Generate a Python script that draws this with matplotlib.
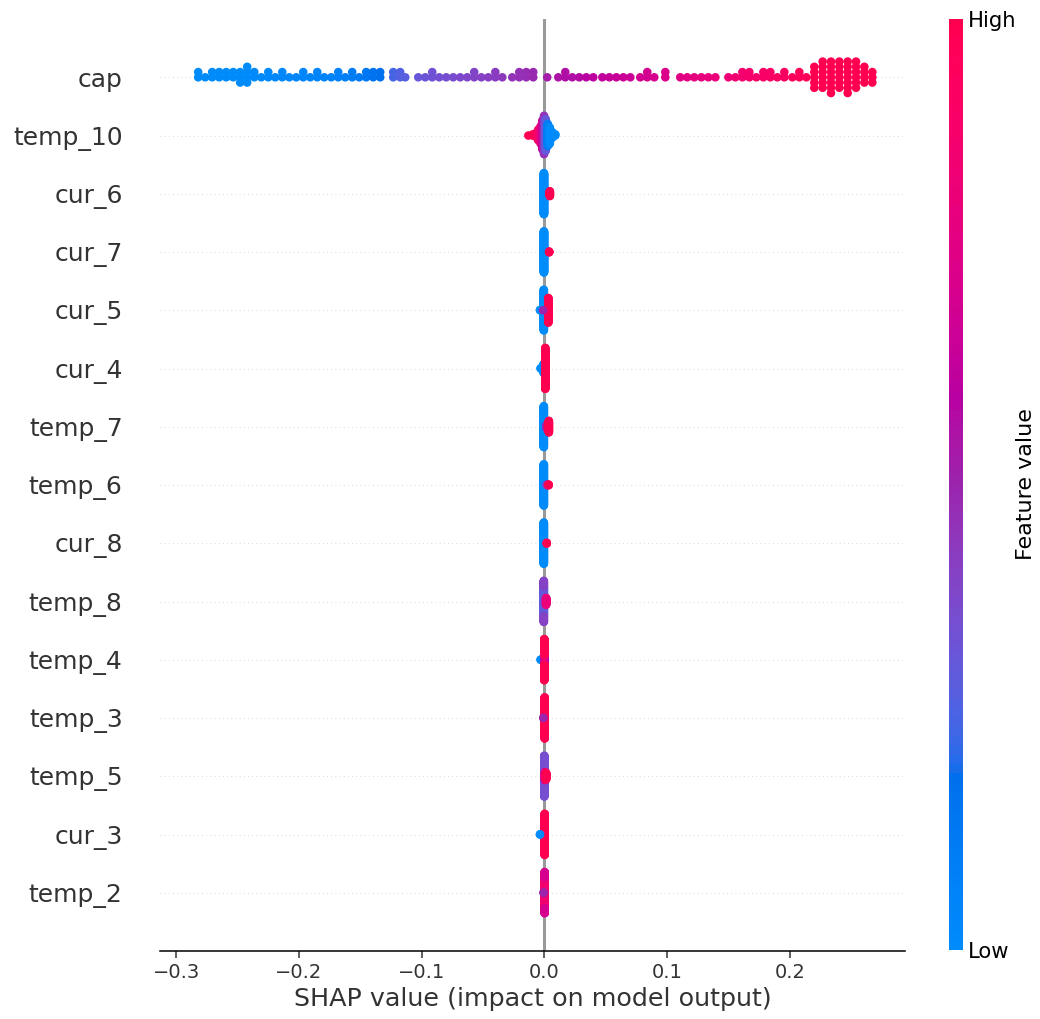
import numpy as np
import matplotlib
matplotlib.use("Agg")
import matplotlib.pyplot as plt
from matplotlib.colors import ListedColormap, Normalize
from matplotlib.cm import ScalarMappable

# Feature rows, top to bottom
feature_names = ["cap", "temp_10", "cur_6", "cur_7", "cur_5", "cur_4", "temp_7",
                 "temp_6", "cur_8", "temp_8", "temp_4", "temp_3", "temp_5",
                 "cur_3", "temp_2"]

# Each row: (SHAP value, scaled feature value, number of samples)
cap_pts = [
    (-0.2820, 0.00, 2), (-0.2763, 0.00, 1), (-0.2706, 0.00, 2), (-0.2649, 0.00, 2),
    (-0.2592, 0.00, 2), (-0.2535, 0.00, 2), (-0.2478, 0.00, 3), (-0.2421, 0.00, 4),
    (-0.2363, 0.01, 2), (-0.2306, 0.01, 1), (-0.2249, 0.01, 2), (-0.2192, 0.02, 1),
    (-0.2135, 0.02, 2), (-0.2078, 0.02, 1), (-0.2021, 0.03, 1), (-0.1964, 0.03, 2),
    (-0.1907, 0.04, 1), (-0.1850, 0.05, 2), (-0.1793, 0.05, 1), (-0.1736, 0.06, 1),
    (-0.1679, 0.07, 2), (-0.1622, 0.08, 1), (-0.1565, 0.10, 2), (-0.1508, 0.11, 1),
    (-0.1451, 0.13, 2), (-0.1394, 0.15, 2), (-0.1337, 0.17, 2),
    (-0.1231, 0.24, 2), (-0.1174, 0.26, 2), (-0.1133, 0.27, 1),
    (-0.1027, 0.31, 1), (-0.0970, 0.32, 1), (-0.0913, 0.33, 2), (-0.0856, 0.34, 1),
    (-0.0799, 0.35, 1), (-0.0742, 0.36, 1), (-0.0685, 0.37, 1), (-0.0628, 0.38, 1),
    (-0.0571, 0.39, 2), (-0.0513, 0.40, 1), (-0.0456, 0.41, 1), (-0.0399, 0.42, 2),
    (-0.0342, 0.43, 1), (-0.0261, 0.45, 1), (-0.0204, 0.46, 2), (-0.0147, 0.47, 2),
    (-0.0090, 0.48, 2), (0.0024, 0.52, 1),
    (0.0114, 0.55, 1), (0.0171, 0.56, 2), (0.0228, 0.57, 1), (0.0285, 0.58, 1),
    (0.0342, 0.59, 1), (0.0399, 0.60, 1), (0.0473, 0.62, 1), (0.0530, 0.63, 1),
    (0.0587, 0.64, 1), (0.0644, 0.65, 1), (0.0701, 0.66, 1), (0.0782, 0.68, 1),
    (0.0839, 0.69, 2), (0.0896, 0.70, 1), (0.0986, 0.72, 2), (0.1108, 0.75, 1),
    (0.1165, 0.76, 1), (0.1222, 0.77, 1), (0.1280, 0.78, 1), (0.1337, 0.79, 1),
    (0.1394, 0.80, 1), (0.1500, 0.83, 1), (0.1557, 0.85, 1), (0.1614, 0.86, 2),
    (0.1671, 0.87, 2), (0.1728, 0.88, 1), (0.1785, 0.89, 2), (0.1842, 0.90, 2),
    (0.1899, 0.91, 1), (0.1956, 0.92, 2), (0.2021, 0.94, 1), (0.2078, 0.95, 2),
    (0.2135, 0.96, 1),
    (0.2200, 1.00, 5), (0.2268, 1.00, 6), (0.2336, 1.00, 7), (0.2404, 1.00, 6),
    (0.2472, 1.00, 7), (0.2540, 1.00, 6), (0.2608, 1.00, 4), (0.2673, 1.00, 3),
]
temp_10_pts = [
    (-0.0130, 1.00, 1), (-0.0095, 1.00, 2), (-0.0070, 0.95, 4), (-0.0050, 0.90, 10),
    (-0.0030, 0.80, 16), (-0.0015, 0.65, 26), (-0.0002, 0.45, 34), (0.0012, 0.30, 28),
    (0.0028, 0.10, 20), (0.0045, 0.00, 15), (0.0065, 0.00, 6), (0.0090, 0.00, 2),
]
cur_6_pts = [(-0.0003, 0.00, 146), (0.0045, 1.00, 18)]
cur_7_pts = [(-0.0003, 0.00, 160), (0.0040, 1.00, 4)]
cur_5_pts = [(-0.0035, 0.00, 2), (-0.0004, 0.00, 100), (0.0033, 1.00, 61), (-0.0010, 0.50, 1)]
cur_4_pts = [(-0.0030, 0.00, 2), (-0.0005, 0.00, 30), (0.0008, 1.00, 132)]
temp_7_pts = [(-0.0004, 0.00, 118), (0.0020, 0.50, 12), (0.0037, 1.00, 34)]
temp_6_pts = [(-0.0004, 0.00, 156), (0.0020, 0.40, 4), (0.0035, 1.00, 4)]
cur_8_pts = [(-0.0004, 0.00, 160), (0.0020, 1.00, 4)]
temp_8_pts = [(-0.0004, 0.30, 100), (-0.0004, 0.40, 40), (0.0015, 0.80, 24)]
temp_4_pts = [(-0.0030, 0.00, 2), (0.0000, 0.60, 30), (0.0000, 0.80, 12), (0.0000, 1.00, 120)]
temp_3_pts = [(0.0003, 1.00, 162), (-0.0008, 0.50, 2)]
temp_5_pts = [(0.0000, 0.00, 40), (0.0000, 0.35, 80), (0.0005, 0.75, 24), (0.0015, 1.00, 20)]
cur_3_pts = [(0.0003, 1.00, 162), (-0.0035, 0.00, 2)]
temp_2_pts = [(0.0003, 0.85, 120), (0.0003, 0.70, 42), (-0.0006, 0.50, 2)]

rows = [cap_pts, temp_10_pts, cur_6_pts, cur_7_pts, cur_5_pts, cur_4_pts, temp_7_pts,
        temp_6_pts, cur_8_pts, temp_8_pts, temp_4_pts, temp_3_pts, temp_5_pts,
        cur_3_pts, temp_2_pts]


def lch_to_rgb(l, c, h):
    a, b = c * np.cos(h), c * np.sin(h)
    fy = (l + 16.0) / 116.0
    xyz = np.array([a / 500.0 + fy, fy, fy - b / 200.0])
    xyz = np.where(xyz > 0.2068966, xyz ** 3, (xyz - 16.0 / 116.0) / 7.787)
    xyz *= np.array([0.95047, 1.0, 1.08883])
    m = np.array([[3.24048134, -1.53715152, -0.49853633],
                  [-0.96925495, 1.87599, 0.04155593],
                  [0.05564664, -0.20404134, 1.05731107]])
    rgb = m @ xyz
    rgb = np.where(rgb > 0.0031308,
                   1.055 * np.power(np.clip(rgb, 1e-9, None), 1 / 2.4) - 0.055,
                   rgb * 12.92)
    return np.clip(rgb, 0, 1)


# blue -> purple -> red, interpolated in LCH space
nsteps = 100
l_vals = np.concatenate([np.linspace(54, 40, nsteps // 2), np.linspace(40, 54, nsteps // 2)])
c_vals = np.linspace(70, 90, nsteps)
h_vals = np.linspace(4.6588, 0.35470565 + 2 * np.pi, nsteps)
red_blue = ListedColormap([lch_to_rgb(l, c, h) for l, c, h in zip(l_vals, c_vals, h_vals)])


def swarm(shaps, row_height=0.4, nbins=100):
    quant = np.round(nbins * (shaps - shaps.min()) / (shaps.max() - shaps.min() + 1e-8))
    ys = np.zeros(len(shaps))
    layer, last_bin = 0, -1
    for i in np.argsort(quant, kind="stable"):
        if quant[i] != last_bin:
            layer = 0
        ys[i] = np.ceil(layer / 2) * ((layer % 2) * 2 - 1)
        layer += 1
        last_bin = quant[i]
    return ys * 0.9 * (row_height / np.max(ys + 1))


axis_color = "#333333"
fig = plt.figure(figsize=(10.4, 10.19), dpi=100)
ax = fig.add_axes([0.154, 0.0667, 0.7163, 0.9146])

n_rows = len(feature_names)
for k, groups in enumerate(rows):
    pos = n_rows - 1 - k
    counts = [g[2] for g in groups]
    shaps = np.repeat([g[0] for g in groups], counts)
    vals = np.repeat([g[1] for g in groups], counts)
    ax.axhline(y=pos, color="#cccccc", lw=0.6, dashes=(1, 4), zorder=-1)
    ax.scatter(shaps, pos + swarm(shaps), c=vals, cmap=red_blue, vmin=0, vmax=1,
               s=38, linewidths=0, zorder=3)

ax.axvline(x=0, color="#999999", lw=2.2, zorder=-1)

ax.set_xlim(-0.313, 0.294)
ax.set_ylim(-1, n_rows)
ax.set_yticks(range(n_rows))
ax.set_yticklabels(feature_names[::-1], fontsize=18)
ax.set_xticks([-0.3, -0.2, -0.1, 0.0, 0.1, 0.2])
ax.tick_params(axis="y", length=0, pad=27, labelcolor=axis_color)
ax.tick_params(axis="x", labelsize=14, length=5, width=1.1, color=axis_color,
               labelcolor=axis_color)
for side in ["top", "right", "left"]:
    ax.spines[side].set_visible(False)
ax.spines["bottom"].set_linewidth(1.1)
ax.set_xlabel("SHAP value (impact on model output)", fontsize=18.3, color=axis_color)

cax = fig.add_axes([0.9125, 0.0677, 0.0135, 0.9136])
cb = fig.colorbar(ScalarMappable(norm=Normalize(0, 1), cmap=red_blue), cax=cax, ticks=[0, 1])
cb.set_ticklabels(["Low", "High"])
cb.ax.tick_params(labelsize=15.2, length=0)
cb.set_label("Feature value", size=16, labelpad=0)
cb.outline.set_visible(False)

fig.savefig("out.png", dpi=100)
